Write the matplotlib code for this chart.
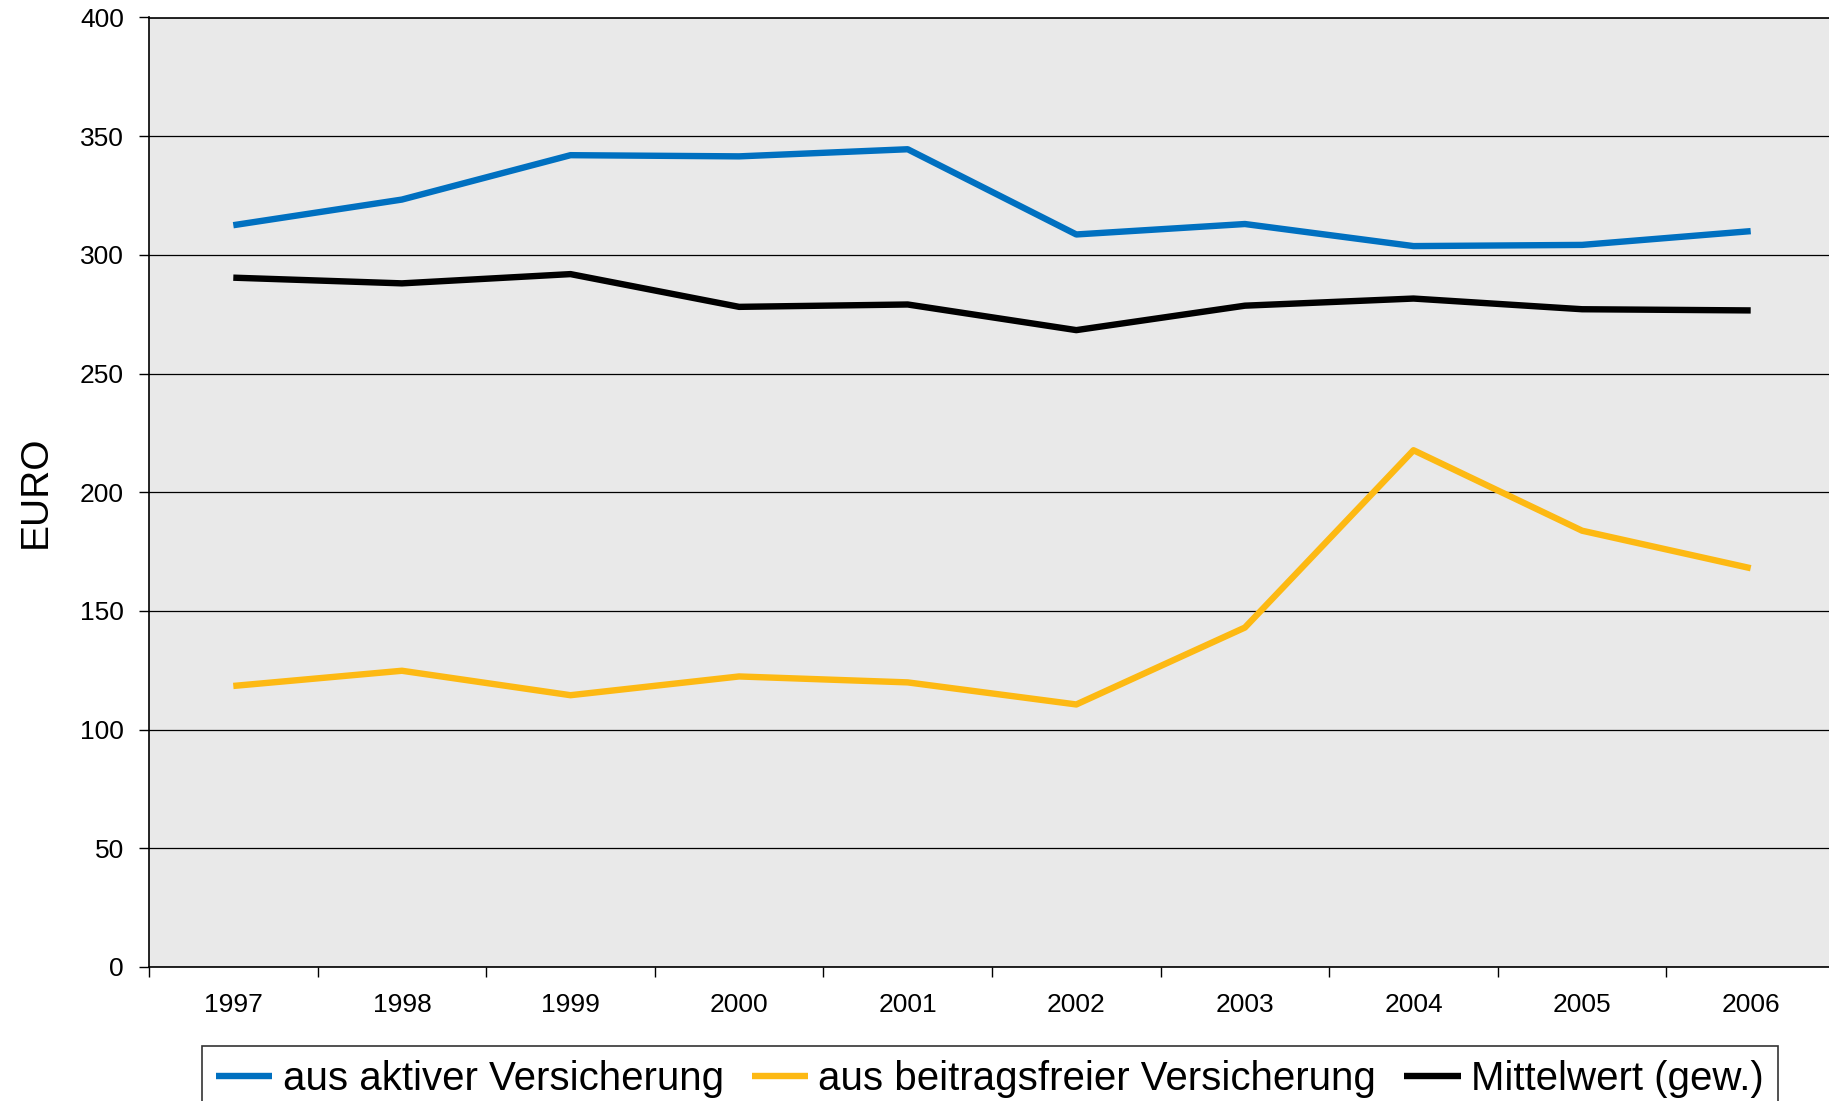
import numpy as np
import matplotlib
matplotlib.use("Agg")
import matplotlib.pyplot as plt
from matplotlib.ticker import FixedLocator, NullFormatter

plt.rcParams['font.family'] = ['Liberation Sans', 'DejaVu Sans']

years = ["1997", "1998", "1999", "2000", "2001", "2002", "2003", "2004", "2005", "2006"]
aktiv = [312.5, 323.3, 342.0, 341.5, 344.5, 308.6, 313.0, 303.7, 304.2, 310.0]
beitragsfrei = [118.4, 124.8, 114.5, 122.4, 119.9, 110.6, 143.0, 217.7, 183.8, 168.0]
mittelwert = [290.4, 288.0, 291.9, 278.1, 279.1, 268.3, 278.6, 281.6, 277.1, 276.6]
labels = ["aus aktiver Versicherung", "aus beitragsfreier Versicherung", "Mittelwert (gew.)"]

fig = plt.figure(figsize=(18.29, 11.01), dpi=100)
ax = fig.add_axes([149 / 1829, 1 - 967 / 1101, 1686 / 1829, 949.5 / 1101])
ax.set_facecolor("#E9E9E9")

x = np.arange(len(years))
ax.plot(x, aktiv, color="#0070C0", lw=4.6, label=labels[0], solid_capstyle="butt")
ax.plot(x, beitragsfrei, color="#FDB913", lw=4.6, label=labels[1], solid_capstyle="butt")
ax.plot(x, mittelwert, color="black", lw=4.6, label=labels[2], solid_capstyle="butt")

ax.set_xlim(-0.5, len(years) - 0.5)
ax.set_ylim(0, 400)
ax.set_yticks(np.arange(0, 401, 50))
ax.yaxis.grid(True, color="black", lw=0.9)
ax.set_axisbelow(True)

# category boundaries get the tick marks, labels sit in the middle
ax.xaxis.set_major_locator(FixedLocator(np.arange(-0.5, len(years), 1.0)))
ax.xaxis.set_major_formatter(NullFormatter())
ax.xaxis.set_minor_locator(FixedLocator(x))
ax.set_xticklabels(years, minor=True)
ax.tick_params(axis="x", which="major", direction="out", length=7, width=1)
ax.tick_params(axis="x", which="minor", length=0, pad=19, labelsize=19)
ax.tick_params(axis="y", direction="out", length=7, width=1, pad=11, labelsize=19)

for s in ["left", "top", "bottom"]:
    ax.spines[s].set_color("black")
    ax.spines[s].set_linewidth(1.2)
ax.spines["right"].set_visible(False)

ax.set_ylabel("EURO", fontsize=28, labelpad=19)

leg = fig.legend(loc="upper left", bbox_to_anchor=(202 / 1829, 1 - 1046 / 1101), ncol=3,
                 fontsize=29, frameon=True, fancybox=False, edgecolor="black",
                 handlelength=1.4, handletextpad=0.25, columnspacing=0.7,
                 borderpad=0.35, borderaxespad=0)
leg.get_frame().set_linewidth(1.2)

fig.savefig("out.png", dpi=100)
